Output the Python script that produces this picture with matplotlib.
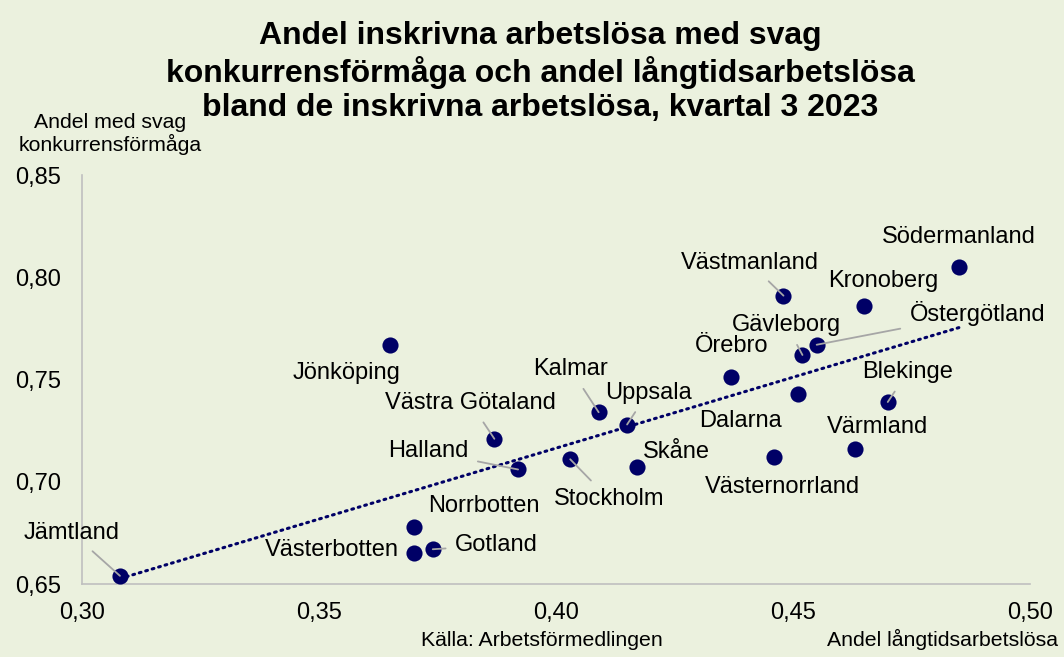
import numpy as np
import matplotlib
matplotlib.use("Agg")
import matplotlib.pyplot as plt
from matplotlib.ticker import FuncFormatter

plt.rcParams["font.family"] = ["Liberation Sans", "DejaVu Sans"]

BG = "#EBF1DE"
NAVY = "#000066"
GREY = "#A6A6A6"

# data: andel långtidsarbetslösa (x) and andel med svag konkurrensförmåga (y)
lan = ["Södermanland", "Västmanland", "Kronoberg", "Östergötland", "Gävleborg",
       "Örebro", "Dalarna", "Blekinge", "Värmland", "Västernorrland", "Skåne",
       "Stockholm", "Uppsala", "Kalmar", "Västra Götaland", "Halland",
       "Jönköping", "Norrbotten", "Västerbotten", "Gotland", "Jämtland"]
langtid = [0.485, 0.448, 0.465, 0.455, 0.452,
           0.437, 0.451, 0.470, 0.463, 0.446, 0.417,
           0.403, 0.415, 0.409, 0.387, 0.392,
           0.365, 0.370, 0.370, 0.374, 0.308]
svag = [0.805, 0.791, 0.786, 0.767, 0.762,
        0.751, 0.743, 0.739, 0.716, 0.712, 0.707,
        0.711, 0.728, 0.734, 0.721, 0.706,
        0.767, 0.678, 0.665, 0.667, 0.654]

# label offsets (pixels) and whether a leader line is drawn
label_dx = [0, -34, 19, 161, -16, 0, -57, 20, 23, 8, 40,
            39, 21, -28, -24, -90, -44, 70, -82, 64, -48]
label_dy = [30, 33, 25, 31, 30, 31, -27, 30, 22, -30, 15,
            -40, 32, 43, 36, 18, -28, 21, 3, 4, 43]
leader = [False, True, False, True, True, False, False, True, False, False, False,
          True, True, True, True, True, False, False, False, True, True]

fig = plt.figure(figsize=(10.64, 6.57), dpi=100, facecolor=BG)
ax = fig.add_axes([0.0771, 0.1111, 0.8909, 0.6225], facecolor=BG)

x = np.array(langtid)
y = np.array(svag)

# linear trendline
k, m = np.polyfit(x, y, 1)
xt = np.array([x.min(), x.max()])
ax.plot(xt, k * xt + m, color=NAVY, lw=2.2, linestyle=(0, (0.6, 1.6)),
        dash_capstyle="round", zorder=2)

ax.scatter(x, y, s=135, color=NAVY, zorder=3, linewidths=0)

for name, xi, yi, dx, dy, ld in zip(lan, x, y, label_dx, label_dy, leader):
    props = dict(arrowstyle="-", color=GREY, lw=1.3, shrinkA=5, shrinkB=0) if ld else None
    ax.annotate(name, (xi, yi), xytext=(dx, dy), textcoords="offset pixels",
                ha="center", va="center", fontsize=17, color="black",
                arrowprops=props, zorder=4)

ax.set_xlim(0.30, 0.50)
ax.set_ylim(0.65, 0.85)
ax.set_xticks(np.arange(0.30, 0.501, 0.05))
ax.set_yticks(np.arange(0.65, 0.851, 0.05))
fmt = FuncFormatter(lambda v, p: f"{v:.2f}".replace(".", ","))
ax.xaxis.set_major_formatter(fmt)
ax.yaxis.set_major_formatter(fmt)
ax.tick_params(length=0, labelsize=17, pad=13)
ax.tick_params(axis="y", pad=15)
for s in ["top", "right"]:
    ax.spines[s].set_visible(False)
for s in ["left", "bottom"]:
    ax.spines[s].set_color("#BFBFBF")
    ax.spines[s].set_linewidth(1.2)

fig.text(540 / 1064, 1 - 72 / 657,
         "Andel inskrivna arbetslösa med svag\n"
         "konkurrensförmåga och andel långtidsarbetslösa\n"
         "bland de inskrivna arbetslösa, kvartal 3 2023",
         ha="center", va="center", fontsize=23, fontweight="bold",
         linespacing=1.17)
fig.text(110 / 1064, 1 - 134 / 657, "Andel med svag\nkonkurrensförmåga",
         ha="center", va="center", fontsize=15.3, linespacing=1.12)
fig.text(1058 / 1064, 1 - 639 / 657, "Andel långtidsarbetslösa",
         ha="right", va="center", fontsize=15.3)
fig.text(542 / 1064, 1 - 640 / 657, "Källa: Arbetsförmedlingen",
         ha="center", va="center", fontsize=15.3)

fig.savefig("out.png", dpi=100, facecolor=BG)
